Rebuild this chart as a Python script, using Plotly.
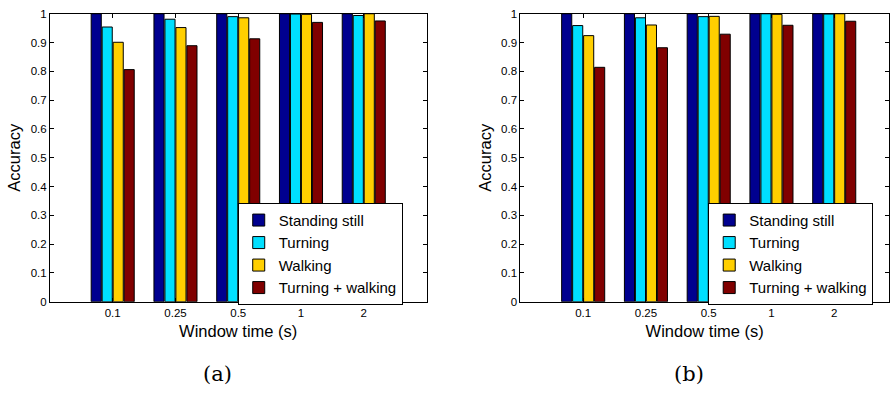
import plotly.graph_objects as go

windows = ["0.1", "0.25", "0.5", "1", "2"]
series_names = ["Standing still", "Turning", "Walking", "Turning + walking"]
colors = ["#00008F", "#00DFFF", "#FFCF00", "#800000"]

# panel (a)
a_standing = [1.0, 1.0, 1.0, 1.0, 1.0]
a_turning = [0.954, 0.981, 0.990, 0.999, 0.994]
a_walking = [0.901, 0.952, 0.986, 0.998, 1.0]
a_both = [0.806, 0.889, 0.913, 0.970, 0.975]

# panel (b)
b_standing = [1.0, 1.0, 1.0, 1.0, 1.0]
b_turning = [0.959, 0.986, 0.990, 1.0, 0.999]
b_walking = [0.924, 0.961, 0.991, 0.998, 1.0]
b_both = [0.814, 0.882, 0.929, 0.960, 0.974]

yticks = [0, 0.1, 0.2, 0.3, 0.4, 0.5, 0.6, 0.7, 0.8, 0.9, 1]
yticktext = ["0", "0.1", "0.2", "0.3", "0.4", "0.5", "0.6", "0.7", "0.8", "0.9", "1"]

W, H = 890, 394
FONT = "Liberation Sans, Arial, sans-serif"

fig = go.Figure()
panels = [
    ([a_standing, a_turning, a_walking, a_both], "x", "y", "legend"),
    ([b_standing, b_turning, b_walking, b_both], "x2", "y2", "legend2"),
]
for vals, xa, ya, lg in panels:
    for name, v, c in zip(series_names, vals, colors):
        fig.add_trace(go.Bar(
            x=windows, y=v, name=name, xaxis=xa, yaxis=ya, legend=lg,
            marker=dict(color=c, line=dict(color="black", width=1)),
        ))

def px_x(p):
    return p / W

def px_y(p):
    return 1 - p / H

ydom = [px_y(305), px_y(8)]
axis_common = dict(
    showline=True, linecolor="black", linewidth=1, mirror="ticks",
    ticks="inside", ticklen=4, tickcolor="black",
    tickfont=dict(family=FONT, size=11.5, color="black"),
    showgrid=False, zeroline=False,
)

unit = (427 - 50) / 6.0
right_span = (W - 521) / unit

fig.update_layout(
    width=W, height=H,
    margin=dict(l=0, r=0, t=0, b=0),
    paper_bgcolor="white", plot_bgcolor="white",
    barmode="group", bargap=0.3, bargroupgap=0.08,
    font=dict(family=FONT, color="black"),
    xaxis=dict(domain=[px_x(50), px_x(427)], anchor="y", type="category",
               range=[-1, 5], title=dict(text="Window time (s)", font=dict(size=16.5), standoff=7),
               **axis_common),
    yaxis=dict(domain=ydom, anchor="x", range=[0, 1], tickvals=yticks, ticktext=yticktext,
               title=dict(text="Accuracy", font=dict(size=16.5), standoff=5), **axis_common),
    xaxis2=dict(domain=[px_x(521), 1.0], anchor="y2", type="category",
                range=[-1, -1 + right_span], title=dict(text="Window time (s)", font=dict(size=16.5), standoff=7),
                **axis_common),
    yaxis2=dict(domain=ydom, anchor="x2", range=[0, 1], tickvals=yticks, ticktext=yticktext,
                title=dict(text="Accuracy", font=dict(size=16.5), standoff=5), **axis_common),
    legend=dict(x=px_x(238), y=px_y(203), xanchor="left", yanchor="top",
                bordercolor="black", borderwidth=1, bgcolor="white",
                font=dict(family=FONT, size=15), tracegroupgap=0),
    legend2=dict(x=px_x(709), y=px_y(203), xanchor="left", yanchor="top",
                 bordercolor="black", borderwidth=1, bgcolor="white",
                 font=dict(family=FONT, size=15), tracegroupgap=0),
    annotations=[
        dict(text="(a)", x=px_x(218), y=px_y(380), xref="paper", yref="paper",
             xanchor="center", yanchor="middle", showarrow=False,
             font=dict(family="DejaVu Serif, Liberation Serif, serif", size=21)),
        dict(text="(b)", x=px_x(690), y=px_y(380), xref="paper", yref="paper",
             xanchor="center", yanchor="middle", showarrow=False,
             font=dict(family="DejaVu Serif, Liberation Serif, serif", size=21)),
    ],
)

fig.write_html("out.html")
